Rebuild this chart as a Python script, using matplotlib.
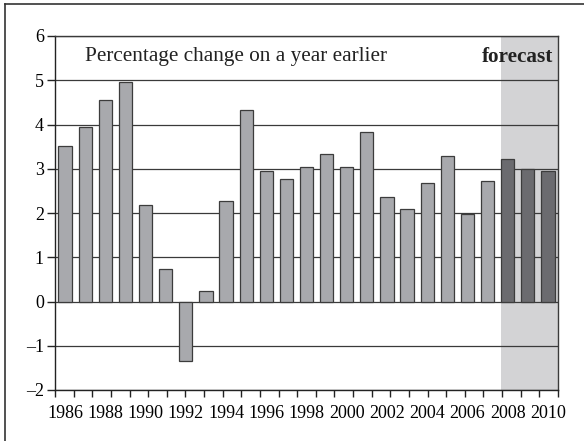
import numpy as np
import matplotlib
matplotlib.use('Agg')
import matplotlib.pyplot as plt
from matplotlib.lines import Line2D

# data
years = list(range(1986, 2011))
growth = [3.52, 3.94, 4.55, 4.97, 2.17, 0.73, -1.34, 0.24, 2.28, 4.32,
          2.94, 2.76, 3.05, 3.34, 3.03, 3.82, 2.36, 2.08, 2.68, 3.28,
          1.98, 2.73, 3.21, 2.99, 2.95]
first_forecast = 2008
year_labels = [str(y) for y in range(1986, 2011, 2)]

plt.rcParams['font.family'] = ['Liberation Serif', 'DejaVu Serif']

fig = plt.figure(figsize=(5.84, 4.41), dpi=100)
ax = fig.add_axes([55 / 584, 1 - 390 / 441, (558 - 55) / 584, (390 - 36) / 441])

x = np.arange(len(years))
fc = np.array(years) >= first_forecast
colors = np.where(fc, '#6b6b6f', '#a8a9ad')

# forecast shading
fc_start = x[fc][0] - 0.33
ax.axvspan(fc_start, len(years) - 0.5, color='#d3d3d5', lw=0, zorder=0)

# gridlines
for yv in range(-2, 7):
    ax.axhline(yv, color='#3a3a3a', lw=0.9, zorder=1)

ax.bar(x, growth, width=0.66, color=colors, edgecolor='#3c3c3c', lw=0.9, zorder=2)

ax.set_xlim(-0.5, len(years) - 0.5)
ax.set_ylim(-2, 6)
ax.set_yticks(range(-2, 7))
ax.set_yticklabels([str(v).replace('-', '\u2013') for v in range(-2, 7)])

# small ticks along the bottom, labels under every other year
ax.set_xticks(np.linspace(-0.5, len(years) - 0.5, 28))
ax.set_xticklabels([])
ax.set_xticks(x[::2], minor=True)
ax.set_xticklabels(year_labels, minor=True)
ax.tick_params(axis='x', which='minor', length=0, labelsize=13, pad=11)
ax.tick_params(axis='x', which='major', length=5, width=1, color='#222222')
ax.tick_params(axis='y', length=6, width=1, labelsize=13, pad=2, color='#222222')

for s in ax.spines.values():
    s.set_color('#3a3a3a')
    s.set_linewidth(1)
    s.set_zorder(3)
ax.spines['left'].set_color('#222222')
ax.spines['bottom'].set_color('#222222')

ax.text(30 / 503, 5.53, 'Percentage change on a year earlier',
        fontsize=15.3, va='center', ha='left', color='#222222', zorder=4,
        transform=ax.get_yaxis_transform())
ax.text(0.99, 5.53, 'forecast', fontsize=15.3, fontweight='bold', va='center',
        ha='right', color='#222222', transform=ax.get_yaxis_transform(), zorder=4)

# outer frame (only left and top visible in the crop)
fig.add_artist(Line2D([5 / 584, 5 / 584], [0, 1 - 4 / 441], color='#333333', lw=1.2))
fig.add_artist(Line2D([5 / 584, 1], [1 - 4 / 441, 1 - 4 / 441], color='#333333', lw=1.2))

fig.savefig('out.png', dpi=100)
